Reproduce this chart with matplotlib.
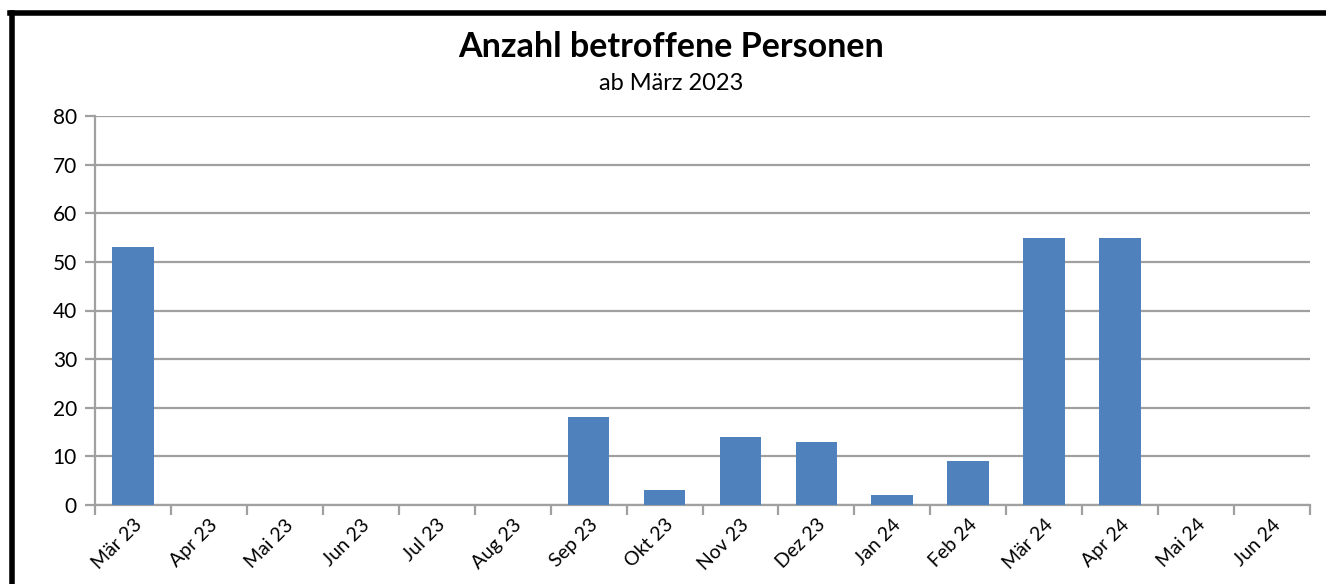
import matplotlib
matplotlib.use('Agg')
import matplotlib.pyplot as plt
from matplotlib.lines import Line2D

months = ["Mär 23", "Apr 23", "Mai 23", "Jun 23", "Jul 23", "Aug 23", "Sep 23", "Okt 23",
          "Nov 23", "Dez 23", "Jan 24", "Feb 24", "Mär 24", "Apr 24", "Mai 24", "Jun 24"]
persons = [53, 0, 0, 0, 0, 0, 18, 3, 14, 13, 2, 9, 55, 55, 0, 0]
yticks = [0, 10, 20, 30, 40, 50, 60, 70, 80]

plt.rcParams['font.family'] = ['Lato', 'DejaVu Sans']
grey = '#a0a0a0'

fig = plt.figure(figsize=(13.26, 5.84), dpi=100)
ax = fig.add_axes([95 / 1326, 1 - 505 / 584, (1310 - 95) / 1326, (505 - 116) / 584])

x = list(range(len(months)))
ax.bar(x, persons, width=0.55, color='#4f81bd', zorder=3)

ax.set_xlim(-0.5, len(months) - 0.5)
ax.set_ylim(0, 80)
ax.set_yticks(yticks)
ax.set_yticklabels([str(v) for v in yticks], fontsize=15)
ax.yaxis.grid(True, color=grey, linewidth=1.6, zorder=0)

# tick marks sit between the categories, labels under the category centres
ax.set_xticks([i + 0.5 for i in [-1] + x])
ax.set_xticklabels([])
ax.set_xticks(x, minor=True)
ax.set_xticklabels(months, minor=True, rotation=45, ha='right', rotation_mode='anchor', fontsize=14)
ax.tick_params(axis='x', which='minor', length=0, pad=8)
ax.tick_params(axis='x', which='major', length=7, width=1.6, color=grey)
ax.tick_params(axis='y', length=7, width=1.6, color=grey, pad=6)

for s in ['top', 'right']:
    ax.spines[s].set_visible(False)
for s in ['left', 'bottom']:
    ax.spines[s].set_color(grey)
    ax.spines[s].set_linewidth(1.6)

fig.text(671 / 1326, 1 - 47 / 584, "Anzahl betroffene Personen", ha='center', va='center',
         fontsize=24.5, fontweight='bold')
fig.text(671 / 1326, 1 - 84 / 584, "ab März 2023", ha='center', va='center', fontsize=17)

# frame (only top and left edge visible in the crop)
fig.add_artist(Line2D([11.5 / 1326, 11.5 / 1326], [0, 1 - 12.5 / 584], color='black', linewidth=4))
fig.add_artist(Line2D([9.5 / 1326, 1], [1 - 12.5 / 584, 1 - 12.5 / 584], color='black', linewidth=4))

fig.savefig("out.png", dpi=100)
